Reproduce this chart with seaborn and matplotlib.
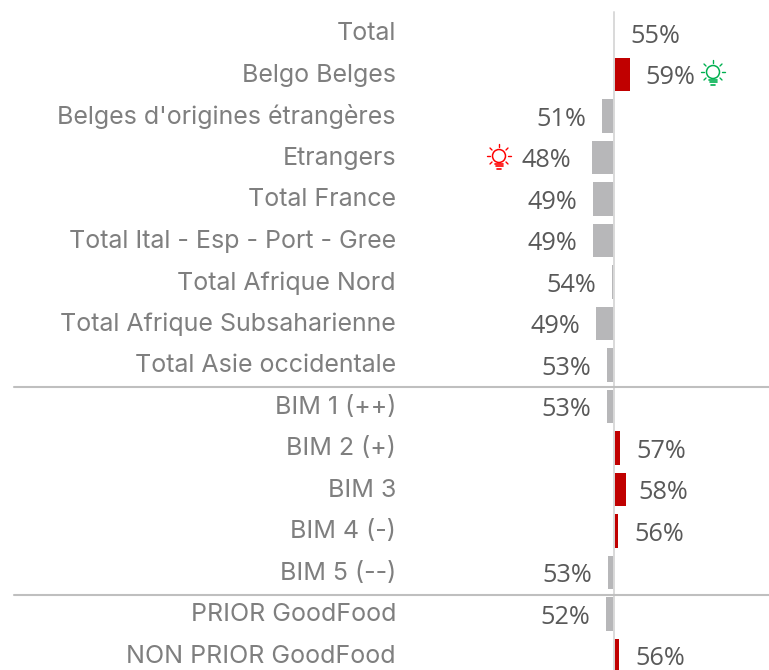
import matplotlib

matplotlib.use("Agg")

import matplotlib.pyplot as plt
import pandas as pd
import seaborn as sns
from matplotlib.lines import Line2D
from matplotlib.patches import Circle
from matplotlib.transforms import IdentityTransform, ScaledTranslation

segments = [
    "Total",
    "Belgo Belges",
    "Belges d'origines étrangères",
    "Etrangers",
    "Total France",
    "Total Ital - Esp - Port - Gree",
    "Total Afrique Nord",
    "Total Afrique Subsaharienne",
    "Total Asie occidentale",
    "BIM 1 (++)",
    "BIM 2 (+)",
    "BIM 3",
    "BIM 4 (-)",
    "BIM 5 (--)",
    "PRIOR GoodFood",
    "NON PRIOR GoodFood",
]
# gap to Total, in points
gaps = [0, 4.7, -3.6, -6.6, -6.3, -6.3, -0.5, -5.4, -2.0, -2.1, 1.9, 3.5, 1.3, -1.8, -2.4, 1.6]
labels = ["55%", "59%", "51%", "48%", "49%", "49%", "54%", "49%", "53%", "53%", "57%", "58%", "56%", "53%", "52%", "56%"]

W, H = 769, 670
PX_PER_POINT = 3.3
ZERO_X = 614
RED = "#c00000"
GREY = "#b7b7b9"

df = pd.DataFrame({"segment": segments, "gap": gaps})
df["sign"] = ["up" if g > 0 else "down" for g in gaps]

sns.set_theme(style="white")
plt.rcParams["font.family"] = ["Inter", "DejaVu Sans"]

fig = plt.figure(figsize=(W / 100, H / 100), dpi=100)
left_px = 405
ax = fig.add_axes([left_px / W, 0, 1 - left_px / W, 1])

sns.barplot(
    data=df,
    y="segment",
    x="gap",
    hue="sign",
    palette={"up": RED, "down": GREY},
    dodge=False,
    width=0.8,
    saturation=1,
    linewidth=0,
    legend=False,
    ax=ax,
)

ax.set_xlim((left_px - ZERO_X) / PX_PER_POINT, (W - ZERO_X) / PX_PER_POINT)
ax.set_ylim(15.35, -0.795)
ax.set_xlabel("")
ax.set_ylabel("")
ax.set_xticks([])
sns.despine(ax=ax, left=True, bottom=True)
ax.tick_params(axis="y", length=0, pad=6.5, labelsize=18, labelcolor="#7f7f7f")
for tick_label in ax.get_yticklabels():
    tick_label.set_transform(tick_label.get_transform() + ScaledTranslation(0, 1.5 / 100, fig.dpi_scale_trans))

ax.axvline(0, ymin=0, ymax=0.982, color="#d9d9d9", lw=1.4, zorder=1)

for y in [8.53, 13.54]:
    fig.add_artist(
        Line2D(
            [14 / W, 1],
            [1 - (33 + y * 41.5) / H] * 2,
            color="#bfbfbf",
            lw=1.5,
        )
    )

for i, (gap, label) in enumerate(zip(gaps, labels)):
    offset = 16 * 0.72
    if segments[i] == "Etrangers":
        offset = 21 * 0.72
    if segments[i] == "BIM 3":
        offset = 13 * 0.72
    ax.annotate(
        label,
        (gap, i),
        xytext=(offset if gap >= 0 else -offset, -3.5 * 0.72),
        textcoords="offset points",
        ha="left" if gap >= 0 else "right",
        va="center",
        fontsize=18.2,
        color="#595959",
        family=["Open Sans", "DejaVu Sans"],
    )


def draw_bulb(x, y, color):
    # x, y in reference pixels, measured from the top left
    y = H - y
    tr = IdentityTransform()
    fig.add_artist(Circle((x, y + 1), 6.5, fill=False, ec=color, lw=1.1, transform=tr))
    rays = [(-12, 1, -9, 1), (9, 1, 12, 1), (0, 13, 0, 10), (-9, 9, -7, 7), (9, 9, 7, 7), (-9, -7, -7, -5), (9, -7, 7, -5)]
    for x0, y0, x1, y1 in rays:
        fig.add_artist(Line2D([x + x0, x + x1], [y + y0, y + y1], color=color, lw=1, transform=tr))
    for dy, half in [(-6.5, 4), (-9, 3.5), (-11.5, 2)]:
        fig.add_artist(Line2D([x - half, x + half], [y + dy, y + dy], color=color, lw=1.2, transform=tr))


draw_bulb(713, 73, "#00b050")
draw_bulb(499, 157, "#ff0000")

fig.savefig("out.png", dpi=100)
plt.close(fig)
